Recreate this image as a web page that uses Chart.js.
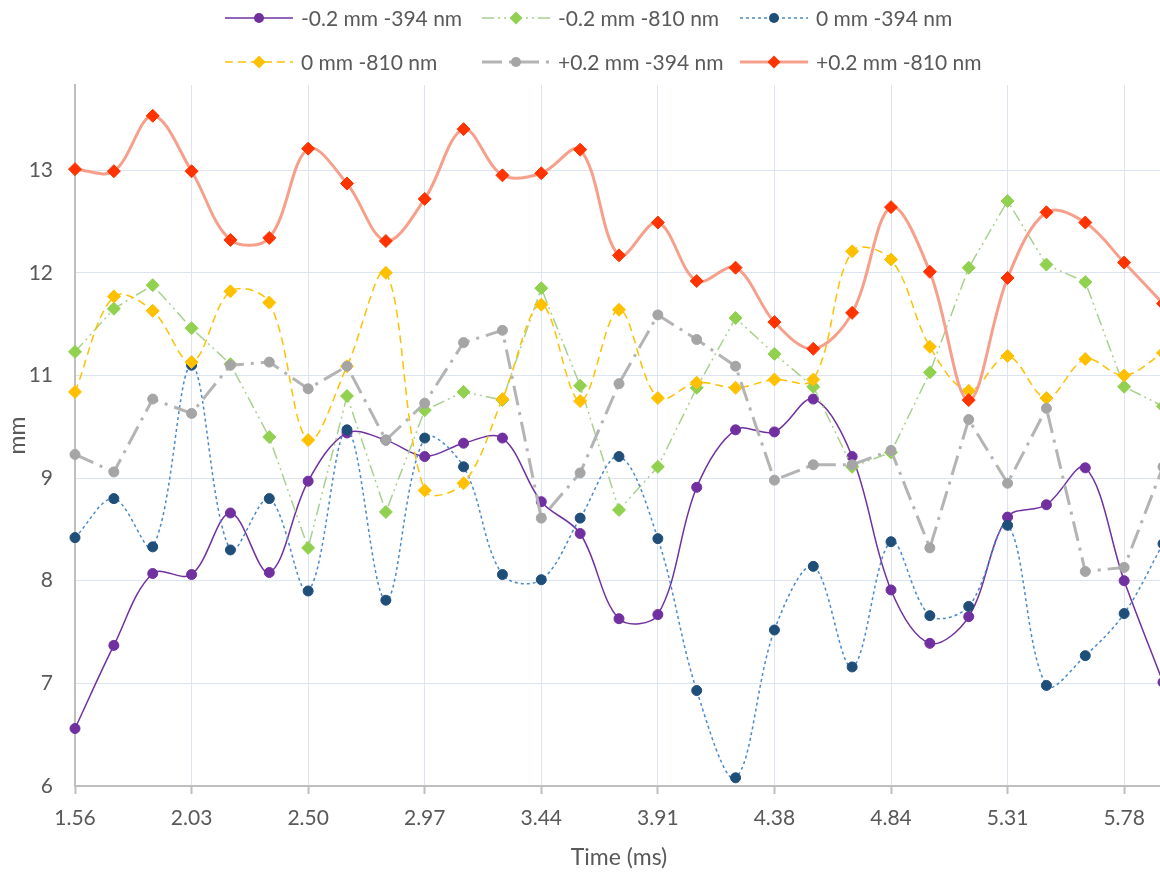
<!DOCTYPE html>
<html>
<head>
<meta charset="utf-8">
<title>Traces</title>
<script src="https://cdn.jsdelivr.net/npm/chart.js@4.4.1/dist/chart.umd.min.js"></script>
<style>
  html, body { margin: 0; padding: 0; background: #fff; overflow: hidden; }
  .chart-box { position: relative; width: 1175px; height: 872px; }
</style>
</head>
<body>
<div class="chart-box"><canvas id="tracesChart"></canvas></div>
<script>
// time of each sample (ms), only every 3rd one is labelled on the axis
const TIMES = ['1.56', '1.72', '1.88', '2.03', '2.19', '2.34', '2.50', '2.66', '2.81', '2.97',
  '3.13', '3.28', '3.44', '3.59', '3.75', '3.91', '4.06', '4.22', '4.38', '4.53',
  '4.69', '4.84', '5.00', '5.16', '5.31', '5.47', '5.63', '5.78', '5.94'];

// the picture labels its evenly spaced grid lines 6, 7, 8, 9, 11, 12, 13 (no 10)
const Y_TICK_LABELS = ['6', '7', '8', '9', '11', '12', '13'];

const SERIES_NAMES = ['-0.2 mm -394 nm', '-0.2 mm -810 nm', '0 mm -394 nm',
  '0 mm -810 nm', '+0.2 mm -394 nm', '+0.2 mm -810 nm'];

// values are in grid steps of that axis (6 = bottom line, 12 = line labelled 13)
const NEG02_394 = [6.56, 7.37, 8.07, 8.06, 8.66, 8.08, 8.97, 9.44, 9.37, 9.21,
  9.34, 9.39, 8.77, 8.46, 7.63, 7.67, 8.91, 9.47, 9.45, 9.77,
  9.21, 7.91, 7.39, 7.65, 8.62, 8.74, 9.10, 8.00, 7.01];
const NEG02_810 = [10.23, 10.65, 10.88, 10.46, 10.11, 9.40, 8.32, 9.80, 8.67, 9.66,
  9.84, 9.76, 10.85, 9.90, 8.69, 9.11, 9.88, 10.56, 10.21, 9.89,
  9.11, 9.25, 10.03, 11.05, 11.70, 11.08, 10.91, 9.89, 9.70];
const ZERO_394 = [8.42, 8.80, 8.33, 10.10, 8.30, 8.80, 7.90, 9.47, 7.81, 9.39,
  9.11, 8.06, 8.01, 8.61, 9.21, 8.41, 6.93, 6.08, 7.52, 8.14,
  7.16, 8.38, 7.66, 7.75, 8.54, 6.98, 7.27, 7.68, 8.36];
const ZERO_810 = [9.84, 10.77, 10.63, 10.13, 10.82, 10.71, 9.37, 10.09, 11.00, 8.88,
  8.95, 9.77, 10.69, 9.75, 10.64, 9.78, 9.93, 9.88, 9.96, 9.96,
  11.21, 11.13, 10.28, 9.85, 10.19, 9.78, 10.16, 10.00, 10.22];
const POS02_394 = [9.23, 9.06, 9.77, 9.63, 10.10, 10.13, 9.87, 10.09, 9.37, 9.73,
  10.32, 10.44, 8.61, 9.05, 9.92, 10.59, 10.35, 10.09, 8.98, 9.13,
  9.13, 9.27, 8.32, 9.57, 8.95, 9.68, 8.09, 8.13, 9.11];
const POS02_810 = [12.01, 11.99, 12.53, 11.99, 11.32, 11.34, 12.21, 11.87, 11.31, 11.72,
  12.40, 11.95, 11.97, 12.20, 11.17, 11.49, 10.92, 11.05, 10.52, 10.26,
  10.61, 11.64, 11.01, 9.76, 10.95, 11.59, 11.49, 11.10, 10.70];

const FONT = 'Lato';
const TEXT_COLOR = '#595959';
const GRID_COLOR = '#DCE3F1';
const AXIS_COLOR = '#BFBFBF';

function series(i, data, line, marker, style, extra) {
  return Object.assign({
    label: SERIES_NAMES[i],
    data: data,
    borderColor: line,
    borderWidth: 1.5,
    pointStyle: style,
    pointRadius: style === 'rectRot' ? 6.5 : 5,
    pointBackgroundColor: marker,
    pointBorderColor: marker,
    pointBorderWidth: 1,
    tension: 0.35,
    clip: false,
    order: 6 - i  // later series drawn on top, like the original
  }, extra);
}

// draw a legend marker (circle or diamond)
function drawMarker(ctx, style, x, y, size, color) {
  ctx.fillStyle = color;
  ctx.beginPath();
  if (style === 'rectRot') {
    ctx.moveTo(x, y - size);
    ctx.lineTo(x + size, y);
    ctx.lineTo(x, y + size);
    ctx.lineTo(x - size, y);
    ctx.closePath();
  } else {
    ctx.arc(x, y, size, 0, Math.PI * 2);
  }
  ctx.fill();
}

// Excel-like legend: line sample with the marker in the middle, 3 per row
const excelLegend = {
  id: 'excelLegend',
  afterDraw(chart) {
    const ctx = chart.ctx;
    const colX = [225, 482, 740];
    const rowY = [18, 62];
    ctx.save();
    ctx.font = '21px ' + FONT;
    ctx.textBaseline = 'middle';
    chart.data.datasets.forEach((ds, i) => {
      const x = colX[i % 3];
      const y = rowY[Math.floor(i / 3)];
      ctx.strokeStyle = ds.borderColor;
      ctx.lineWidth = ds.borderWidth;
      ctx.setLineDash(ds.borderDash || []);
      ctx.beginPath();
      ctx.moveTo(x, y);
      ctx.lineTo(x + 68, y);
      ctx.stroke();
      ctx.setLineDash([]);
      drawMarker(ctx, ds.pointStyle, x + 34, y, ds.pointRadius, ds.pointBackgroundColor);
      ctx.fillStyle = TEXT_COLOR;
      ctx.fillText(ds.label, x + 76, y + 1);
    });
    ctx.restore();
  }
};

const ctx = document.getElementById('tracesChart');
const tracesChart = new Chart(ctx, {
  type: 'line',
  data: {
    labels: TIMES,
    datasets: [
      series(0, NEG02_394, '#7030A0', '#7030A0', 'circle'),
      series(1, NEG02_810, '#A9D18E', '#92D050', 'rectRot', {tension: 0, borderDash: [12, 4, 2, 4, 2, 4]}),
      series(2, ZERO_394, '#4A89C8', '#1F4E79', 'circle', {borderDash: [3, 3]}),
      series(3, ZERO_810, '#FFC000', '#FFC000', 'rectRot', {borderDash: [8, 5]}),
      series(4, POS02_394, '#B4B4B4', '#A5A5A5', 'circle', {tension: 0, borderWidth: 3, borderDash: [20, 7, 3, 7]}),
      series(5, POS02_810, '#F6A08C', '#FF3300', 'rectRot', {borderWidth: 3})
    ]
  },
  options: {
    responsive: true,
    maintainAspectRatio: false,
    animation: false,
    layout: {padding: {top: 85, right: 0, bottom: 0, left: 0}},
    plugins: {
      legend: {display: false},
      tooltip: {enabled: false}
    },
    scales: {
      x: {
        offset: false,
        afterFit: (scale) => { scale.height = 86; },
        border: {color: AXIS_COLOR, width: 2},
        grid: {
          color: (c) => c.index % 3 === 0 ? GRID_COLOR : 'rgba(0,0,0,0)',
          tickColor: (c) => c.index % 3 === 0 ? AXIS_COLOR : 'rgba(0,0,0,0)',
          tickLength: 8,
          tickWidth: 2,
          lineWidth: 1
        },
        ticks: {
          autoSkip: false,
          maxRotation: 0,
          padding: 12,
          color: TEXT_COLOR,
          font: {family: FONT, size: 21},
          callback: (v, i) => i % 3 === 0 ? TIMES[i] : ''
        },
        title: {
          display: true,
          text: 'Time (ms)',
          color: TEXT_COLOR,
          font: {family: FONT, size: 23},
          padding: {top: 0, bottom: 1}
        }
      },
      y: {
        min: 6,
        max: 12.83,
        afterFit: (scale) => { scale.width = 75; },
        afterBuildTicks: (scale) => {
          scale.ticks = Y_TICK_LABELS.map((t, i) => ({value: 6 + i}));
        },
        border: {color: AXIS_COLOR, width: 2},
        grid: {color: GRID_COLOR, drawTicks: false, lineWidth: 1},
        ticks: {
          padding: 22,
          color: TEXT_COLOR,
          font: {family: FONT, size: 21},
          callback: (v, i) => Y_TICK_LABELS[i]
        },
        title: {
          display: true,
          text: 'mm',
          color: TEXT_COLOR,
          font: {family: FONT, size: 23},
          padding: {top: 4, bottom: 0}
        }
      }
    }
  },
  plugins: [excelLegend]
});
</script>
</body>
</html>
